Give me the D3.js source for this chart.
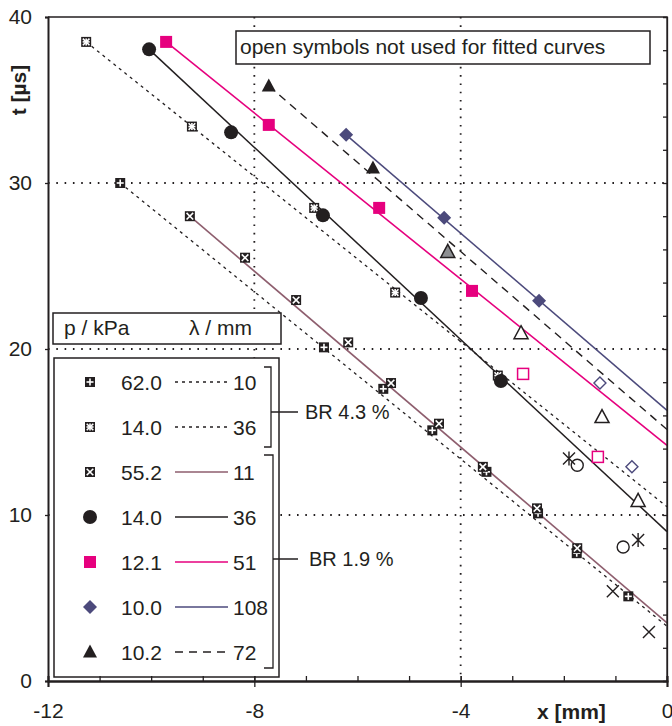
<!DOCTYPE html>
<html lang="en">
<head>
<meta charset="UTF-8">
<title>t over x</title>
<script src="https://cdn.jsdelivr.net/npm/d3@7"></script>
<style>
  body { margin: 0; background: #fff; }
  text { font-family: "Liberation Sans", Arial, sans-serif; fill: #231f20; }
</style>
</head>
<body>
<svg width="672" height="726"></svg>
<script>
// legend labels
var pressures = ["62.0", "14.0", "55.2", "14.0", "12.1", "10.0", "10.2"];
var wavelengths = ["10", "36", "11", "36", "51", "108", "72"];
var symbols = ["plusSq", "starSq", "xSq", "circle", "square", "diamond", "triangle"];
var lineStyles = ["dot", "dot", "mauve", "black", "pink", "slate", "dash"];

// measured points [x mm, t us]
var p62 = [[-10.6, 30.0], [-6.65, 20.1], [-5.5, 17.6], [-4.55, 15.1], [-3.5, 12.6], [-2.5, 10.1], [-1.75, 7.7], [-0.75, 5.1]];
var p14a = [[-11.26, 38.5], [-9.21, 33.4], [-6.84, 28.5], [-5.27, 23.4], [-3.28, 18.4]];
var p552 = [[-9.25, 28.0], [-8.18, 25.5], [-7.19, 22.95], [-6.18, 20.4], [-5.35, 17.95], [-4.42, 15.5], [-3.57, 12.9], [-2.52, 10.4], [-1.74, 8.0]];
var p14b = [[-10.04, 38.05], [-8.45, 33.05], [-6.67, 28.05], [-4.77, 23.07], [-3.22, 18.07]];
var p121 = [[-9.71, 38.5], [-7.72, 33.5], [-5.58, 28.5], [-3.78, 23.5]];
var p100 = [[-6.22, 32.9], [-4.32, 27.9], [-2.48, 22.9]];
var p102 = [[-7.72, 35.85], [-5.7, 30.9]];

// points not used for the fits (open symbols)
var o14a = [[-1.9, 13.4], [-0.56, 8.5]];
var o552 = [[-1.05, 5.4], [-0.35, 2.95]];
var o14b = [[-1.74, 13.0], [-0.85, 8.07]];
var o121 = [[-2.79, 18.5], [-1.34, 13.5]];
var o100 = [[-1.3, 17.95], [-0.68, 12.9]];
var o102 = [[-2.83, 20.95], [-1.26, 15.9], [-0.56, 10.85]];
var g102 = [[-4.25, 25.85]];

// fitted lines, start and end
var fit62 = [[-10.6, 30.0], [0, 3.3]];
var fit14a = [[-11.26, 38.5], [0, 10.5]];
var fit552 = [[-9.25, 28.0], [0, 3.5]];
var fit14b = [[-10.04, 38.05], [0, 9.0]];
var fit121 = [[-9.71, 38.5], [0, 14.2]];
var fit100 = [[-6.22, 32.9], [0, 16.3]];
var fit102 = [[-7.72, 35.85], [0, 15.15]];

var xMajor = [-12, -8, -4, 0];
var yMajor = [0, 10, 20, 30, 40];

var pink = "#e6007e", slate = "#4c4a7c", mauve = "#8e5e6e";

var svg = d3.select("svg");
var x = d3.scaleLinear().domain([-12, 0]).range([48, 667]);
var y = d3.scaleLinear().domain([0, 40]).range([681, 17]);

// grid
var grid = svg.append("g").attr("stroke", "#231f20").attr("stroke-width", 1.8)
    .attr("stroke-dasharray", "1.6,6.7").attr("stroke-linecap", "butt");
[-8, -4].forEach(function (v) {
    grid.append("line").attr("x1", x(v)).attr("x2", x(v)).attr("y1", y(40)).attr("y2", y(0));
});
[10, 20, 30].forEach(function (v) {
    grid.append("line").attr("x1", x(-12)).attr("x2", x(0)).attr("y1", y(v)).attr("y2", y(v));
});

function styleLine(sel, s) {
    sel.attr("fill", "none");
    if (s == "dot") sel.attr("stroke", "#231f20").attr("stroke-width", 1.3).attr("stroke-dasharray", "3,4");
    if (s == "dash") sel.attr("stroke", "#231f20").attr("stroke-width", 1.4).attr("stroke-dasharray", "8,6");
    if (s == "black") sel.attr("stroke", "#231f20").attr("stroke-width", 1.5);
    if (s == "pink") sel.attr("stroke", pink).attr("stroke-width", 1.6);
    if (s == "slate") sel.attr("stroke", slate).attr("stroke-width", 1.5);
    if (s == "mauve") sel.attr("stroke", mauve).attr("stroke-width", 1.6);
}

var line = d3.line().x(function (d) { return x(d[0]); }).y(function (d) { return y(d[1]); });
var fits = [fit62, fit14a, fit552, fit14b, fit121, fit100, fit102];
fits.forEach(function (f, i) {
    styleLine(svg.append("path").attr("d", line(f)), lineStyles[i]);
});

// marker drawing
function marker(g, type, cx, cy) {
    var m = g.append("g").attr("transform", "translate(" + cx + "," + cy + ")");
    var k = "#231f20";
    if (type == "plusSq" || type == "starSq" || type == "xSq") {
        m.append("rect").attr("x", -5).attr("y", -5).attr("width", 10).attr("height", 10).attr("fill", k);
        var w = m.append("g").attr("stroke", "#fff").attr("stroke-width", 1.6);
        if (type == "plusSq" || type == "starSq") {
            w.append("line").attr("x1", -3.5).attr("x2", 3.5).attr("y1", 0).attr("y2", 0);
            w.append("line").attr("x1", 0).attr("x2", 0).attr("y1", -3.5).attr("y2", 3.5);
        }
        if (type == "xSq" || type == "starSq") {
            w.append("line").attr("x1", -3.3).attr("x2", 3.3).attr("y1", -3.3).attr("y2", 3.3);
            w.append("line").attr("x1", -3.3).attr("x2", 3.3).attr("y1", 3.3).attr("y2", -3.3);
        }
    } else if (type == "circle") {
        m.append("circle").attr("r", 7).attr("fill", k);
    } else if (type == "square") {
        m.append("rect").attr("x", -6).attr("y", -6).attr("width", 12).attr("height", 12).attr("fill", pink);
    } else if (type == "diamond") {
        m.append("path").attr("d", "M0,-7L7,0L0,7L-7,0Z").attr("fill", slate);
    } else if (type == "triangle" || type == "openTriangle" || type == "greyTriangle") {
        var t = m.append("path").attr("d", "M0,-7.5L7,5.5L-7,5.5Z");
        if (type == "triangle") t.attr("fill", k);
        else t.attr("fill", type == "greyTriangle" ? "#8d8f92" : "#fff").attr("stroke", k).attr("stroke-width", 1.5);
    } else if (type == "openCircle") {
        m.append("circle").attr("r", 6).attr("fill", "none").attr("stroke", k).attr("stroke-width", 1.4);
    } else if (type == "openSquare") {
        m.append("rect").attr("x", -5.5).attr("y", -5.5).attr("width", 11).attr("height", 11)
            .attr("fill", "#fff").attr("stroke", pink).attr("stroke-width", 1.5);
    } else if (type == "openDiamond") {
        m.append("path").attr("d", "M0,-6L6,0L0,6L-6,0Z").attr("fill", "#fff").attr("stroke", slate).attr("stroke-width", 1.4);
    } else if (type == "cross") {
        m.append("path").attr("d", "M-6,-6L6,6M-6,6L6,-6").attr("stroke", k).attr("stroke-width", 1.4);
    } else if (type == "asterisk") {
        m.append("path").attr("d", "M-6,-6L6,6M-6,6L6,-6M0,-7L0,7").attr("stroke", k).attr("stroke-width", 1.4);
    }
}

var pts = svg.append("g");
function drawSet(arr, type) {
    arr.forEach(function (d) { marker(pts, type, x(d[0]), y(d[1])); });
}
drawSet(o14a, "asterisk");
drawSet(o552, "cross");
drawSet(o14b, "openCircle");
drawSet(o121, "openSquare");
drawSet(o100, "openDiamond");
drawSet(o102, "openTriangle");
drawSet(g102, "greyTriangle");
drawSet(p62, "plusSq");
drawSet(p14a, "starSq");
drawSet(p552, "xSq");
drawSet(p14b, "circle");
drawSet(p121, "square");
drawSet(p100, "diamond");
drawSet(p102, "triangle");

// note box
svg.append("rect").attr("x", 236).attr("y", 31).attr("width", 414).attr("height", 33)
    .attr("fill", "#fff").attr("stroke", "#231f20").attr("stroke-width", 1.5);
svg.append("text").attr("x", 240).attr("y", 54).attr("font-size", 21)
    .text("open symbols not used for fitted curves");

// legend header
svg.append("rect").attr("x", 53).attr("y", 313).attr("width", 228).attr("height", 31)
    .attr("fill", "#fff").attr("stroke", "#231f20").attr("stroke-width", 1.5);
svg.append("text").attr("x", 64).attr("y", 335).attr("font-size", 21).text("p / kPa");
svg.append("text").attr("x", 189).attr("y", 335).attr("font-size", 21).text("λ / mm");

// legend body
svg.append("rect").attr("x", 54).attr("y", 358).attr("width", 225).attr("height", 319)
    .attr("fill", "#fff").attr("stroke", "#231f20").attr("stroke-width", 1.5);
var leg = svg.append("g");
pressures.forEach(function (p, i) {
    var ry = 382 + i * 45;
    marker(leg, symbols[i], 90, ry);
    leg.append("text").attr("x", 121).attr("y", ry + 7.5).attr("font-size", 21).text(p);
    styleLine(leg.append("line").attr("x1", 175).attr("x2", 228).attr("y1", ry).attr("y2", ry), lineStyles[i]);
    leg.append("text").attr("x", 233).attr("y", ry + 7.5).attr("font-size", 21).text(wavelengths[i]);
});

// brackets
var br = svg.append("g").attr("fill", "none").attr("stroke", "#231f20").attr("stroke-width", 1.3);
br.append("path").attr("d", "M264,367H271V447H264M271,412H298");
br.append("path").attr("d", "M264,455H273V668H264M273,559H298");
svg.append("text").attr("x", 305).attr("y", 419).attr("font-size", 20).text("BR 4.3 %");
svg.append("text").attr("x", 309).attr("y", 566).attr("font-size", 20).text("BR 1.9 %");

// frame
svg.append("path").attr("d", "M" + x(-12) + "," + y(40) + "H" + x(0) + "V" + y(0))
    .attr("fill", "none").attr("stroke", "#231f20").attr("stroke-width", 1.3);

// axes
var fmt = function (d) { return String(d); };
var xMinor = svg.append("g").attr("transform", "translate(0," + y(0) + ")")
    .call(d3.axisBottom(x).tickValues(d3.range(-11, 0)).tickSize(-5).tickFormat(""));
var xAx = svg.append("g").attr("transform", "translate(0," + y(0) + ")")
    .call(d3.axisBottom(x).tickValues(xMajor).tickSize(6).tickPadding(16).tickFormat(fmt));
xAx.selectAll(".tick line").attr("y1", -5);
var yRight = svg.append("g").attr("transform", "translate(" + x(0) + ",0)")
    .call(d3.axisRight(y).tickValues(d3.range(2, 40, 2)).tickSize(-4).tickFormat(""));
var yAx = svg.append("g").attr("transform", "translate(" + x(-12) + ",0)")
    .call(d3.axisLeft(y).tickValues(yMajor).tickSize(3).tickPadding(13).tickFormat(fmt));

[xMinor, xAx, yRight, yAx].forEach(function (a) {
    a.select(".domain").attr("stroke", "#231f20").attr("stroke-width", 2);
    a.selectAll(".tick line").attr("stroke", "#231f20").attr("stroke-width", 1.3);
    a.selectAll(".tick text").attr("font-size", 21).attr("font-family", "Liberation Sans, Arial, sans-serif").attr("fill", "#231f20");
});
yRight.select(".domain").attr("stroke-width", 1.3);

svg.append("text").attr("x", 537).attr("y", 719).attr("font-size", 21).attr("font-weight", "bold").text("x [mm]");
svg.append("text").attr("transform", "translate(26,90) rotate(-90)").attr("text-anchor", "middle")
    .attr("font-size", 21).attr("font-weight", "bold").text("t [µs]");
</script>
</body>
</html>
